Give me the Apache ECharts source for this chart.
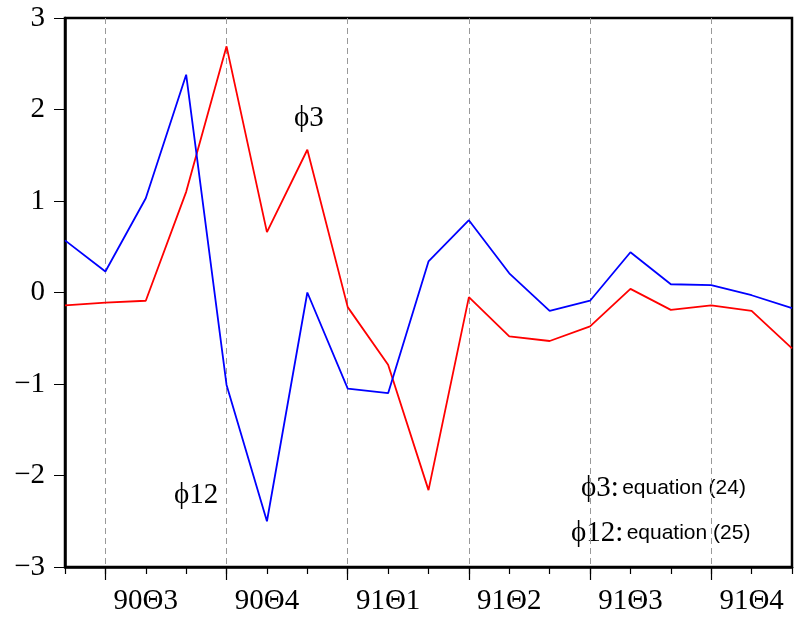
<!DOCTYPE html>
<html>
<head>
<meta charset="utf-8">
<script src="https://cdn.jsdelivr.net/npm/echarts@6/dist/echarts.min.js"></script>
<style>
  html, body { margin: 0; padding: 0; background: #fff; }
  #chart { width: 795px; height: 619px; }
</style>
</head>
<body>
<div id="chart"></div>
<script>
  // monthly points, quarter names sit on the middle month
  var categories = ['', '', '90Θ3', '', '', '90Θ4', '', '', '91Θ1', '', '',
                    '91Θ2', '', '', '91Θ3', '', '', '91Θ4', ''];
  var phi12 = [0.57, 0.23, 1.03, 2.38, -1.01, -2.50, 0.00, -1.05, -1.10, 0.34,
               0.79, 0.21, -0.20, -0.09, 0.44, 0.09, 0.08, -0.03, -0.17];
  var phi3 = [-0.14, -0.11, -0.09, 1.10, 2.69, 0.66, 1.56, -0.16, -0.79, -2.16,
              -0.05, -0.48, -0.53, -0.37, 0.04, -0.19, -0.14, -0.20, -0.61];
  var yTicks = [-3, -2, -1, 0, 1, 2, 3];

  var serif = '"Liberation Serif", "DejaVu Serif", serif';
  var sans = '"Liberation Sans", Arial, sans-serif';

  function isQuarterStart(index) {
    return index % 3 === 1;
  }

  var legendRich = {
    s: { fontFamily: serif, fontSize: 29, fill: '#000' },
    t: { fontFamily: sans, fontSize: 21, fill: '#000' }
  };

  var chart = echarts.init(document.getElementById('chart'));
  chart.setOption({
    animation: false,
    grid: {
      left: 65, right: 2, top: 18, bottom: 52,
      show: true, borderColor: '#000', borderWidth: 2.5
    },
    xAxis: [
      {
        type: 'category',
        data: categories,
        boundaryGap: false,
        position: 'bottom',
        axisLine: { onZero: false, lineStyle: { color: '#000', width: 2.5 } },
        axisTick: { interval: 0, length: 7, lineStyle: { color: '#000', width: 1.2 } },
        axisLabel: {
          interval: 0, margin: 20, color: '#000',
          fontFamily: serif, fontSize: 29
        },
        splitLine: {
          show: true,
          interval: isQuarterStart,
          lineStyle: { color: '#999', type: [6, 4], width: 1 }
        }
      },
      {
        type: 'category',
        data: categories,
        boundaryGap: false,
        position: 'bottom',
        offset: 0,
        axisLine: { show: false, onZero: false },
        axisTick: { interval: isQuarterStart, length: 13, lineStyle: { color: '#000', width: 1.2 } },
        axisLabel: { show: false },
        splitLine: { show: false }
      }
    ],
    yAxis: {
      type: 'value',
      min: yTicks[0],
      max: yTicks[yTicks.length - 1],
      interval: 1,
      axisLine: { show: true, lineStyle: { color: '#000', width: 2.5 } },
      axisTick: { show: true, length: 11, lineStyle: { color: '#000', width: 1 } },
      axisLabel: {
        margin: 20, color: '#000', fontFamily: serif, fontSize: 29,
        formatter: function (v) {
          return v < 0 ? '\u2212' + Math.abs(v) : String(v);
        }
      },
      splitLine: { show: false }
    },
    series: [
      {
        name: 'ϕ12',
        type: 'line',
        data: phi12,
        symbol: 'none',
        lineStyle: { color: '#0000ff', width: 1.8 },
        z: 3
      },
      {
        name: 'ϕ3',
        type: 'line',
        data: phi3,
        symbol: 'none',
        lineStyle: { color: '#ff0000', width: 1.8 },
        z: 2
      }
    ],
    graphic: [
      {
        type: 'text', x: 294, y: 118,
        style: { text: 'ϕ3', font: '29px ' + serif, fill: '#000', verticalAlign: 'middle' }
      },
      {
        type: 'text', x: 174, y: 495,
        style: { text: 'ϕ12', font: '29px ' + serif, fill: '#000', verticalAlign: 'middle' }
      },
      {
        type: 'text', x: 581, y: 488,
        style: { text: '{s|ϕ3:} {t|equation (24)}', rich: legendRich, verticalAlign: 'middle' }
      },
      {
        type: 'text', x: 571, y: 533,
        style: { text: '{s|ϕ12:} {t|equation (25)}', rich: legendRich, verticalAlign: 'middle' }
      }
    ]
  });
</script>
</body>
</html>
